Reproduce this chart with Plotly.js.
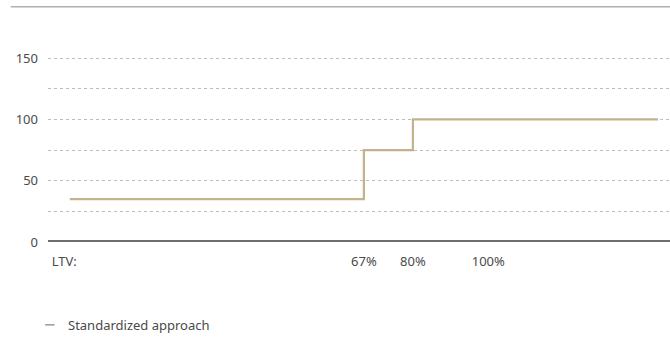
<!DOCTYPE html>
<html>
<head>
<meta charset="utf-8">
<script src="https://cdn.plot.ly/plotly-3.0.1.min.js"></script>
<style>html,body{margin:0;padding:0;background:#fff;}#chart{width:670px;height:338px;}</style>
</head>
<body>
<div id="chart"></div>
<script>
// Step data: risk weight (%) by loan-to-value (LTV %)
const seriesName = 'Standardized approach';
const ltv = [-11, 67, 80, 145];
const riskWeight = [35, 75, 100, 100];
const xTickVals = [-12.5, 67, 80, 100];
const xTickText = ['LTV:', '67%', '80%', '100%'];
const yTickVals = [0, 50, 100, 150];
const yTickText = ['0', '50', '100', '150'];

const font = {family: 'Noto Sans, DejaVu Sans, sans-serif', size: 13, color: '#4a4a4a'};

const trace = {
  x: ltv, y: riskWeight, name: seriesName,
  type: 'scatter', mode: 'lines',
  line: {shape: 'hv', color: '#c4b28c', width: 2.2},
  showlegend: false, hoverinfo: 'skip'
};

const layout = {
  width: 670, height: 338,
  margin: {l: 48, r: 0, t: 40, b: 96},
  paper_bgcolor: '#fff', plot_bgcolor: '#fff',
  font: font,
  showlegend: false,
  xaxis: {
    range: [-16.8, 148.2], tickmode: 'array', tickvals: xTickVals, ticktext: xTickText,
    showgrid: false, zeroline: false, showline: false, ticks: '', ticklabelstandoff: 10,
    tickfont: font, fixedrange: true
  },
  yaxis: {
    range: [0, 164.8], tickmode: 'array', tickvals: yTickVals, ticktext: yTickText,
    showgrid: true, gridcolor: '#bdbdbd', griddash: 'dot', gridwidth: 1,
    minor: {tickmode: 'linear', tick0: 0, dtick: 25, showgrid: true, gridcolor: '#bdbdbd', griddash: 'dot', gridwidth: 1, ticks: ''},
    zeroline: false, showline: false, ticks: '', ticklabelstandoff: 9,
    tickfont: font, fixedrange: true
  },
  shapes: [
    {type: 'line', xref: 'paper', yref: 'y', x0: 0, x1: 1, y0: 0, y1: 0, line: {color: '#6e6e6e', width: 4}},
    {type: 'line', xref: 'paper', yref: 'paper', x0: -0.06, x1: 1, y0: 1.165, y1: 1.165, line: {color: '#b0b0b0', width: 1.5}},
    {type: 'line', xref: 'paper', yref: 'paper', x0: -0.0045, x1: 0.0105, y0: -0.41, y1: -0.41, line: {color: '#999', width: 1.5}}
  ],
  annotations: [
    {xref: 'paper', yref: 'paper', x: 0.029, y: -0.41, xanchor: 'left', yanchor: 'middle',
     text: seriesName, showarrow: false, font: font}
  ]
};

Plotly.newPlot('chart', [trace], layout, {displayModeBar: false, staticPlot: true});
</script>
</body>
</html>
